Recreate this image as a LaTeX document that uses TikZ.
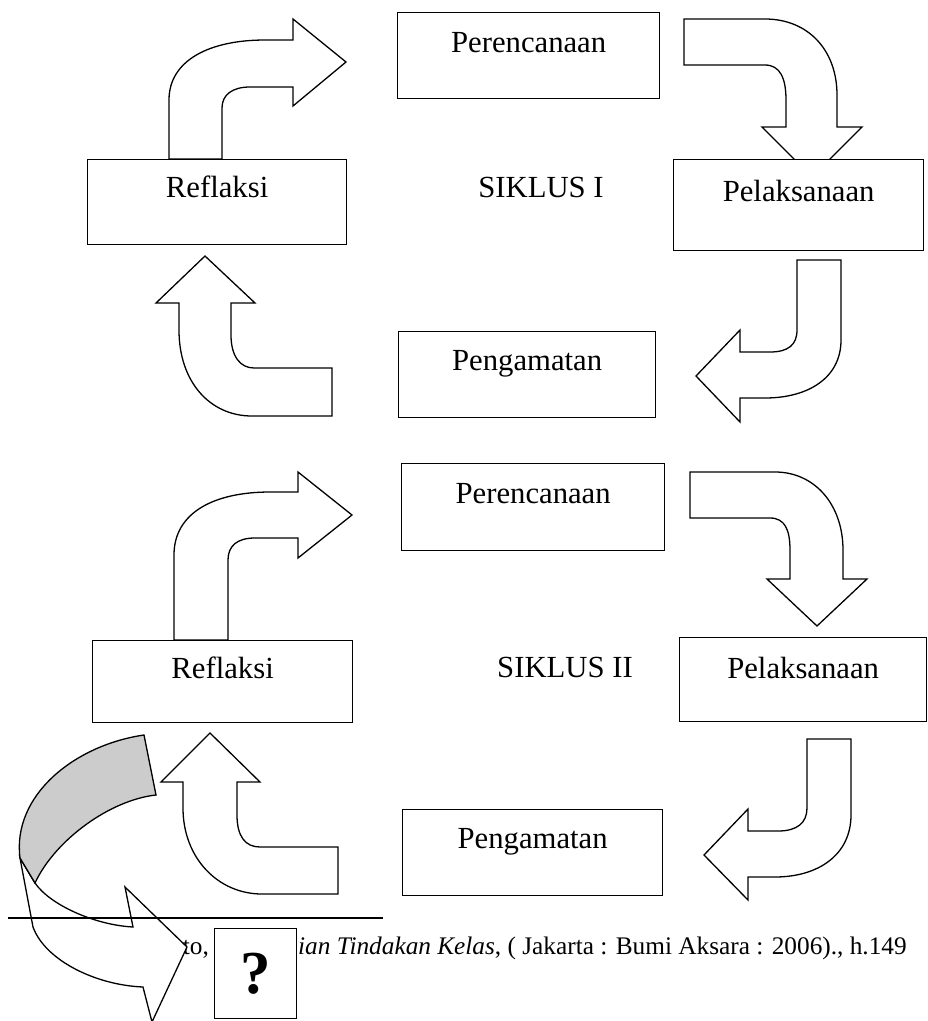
\documentclass[tikz,border=0pt]{standalone}
\usepackage{fontspec}
\setmainfont{Liberation Serif}

\begin{document}
\begin{tikzpicture}[x=1pt, y=-1pt,
  kotak/.style={draw, fill=white, line width=1.3pt, inner sep=0pt, anchor=north west, font=\fontsize{30.7}{36}\selectfont},
  judul/.style={font=\fontsize{30.7}{36}\selectfont},
  panah/.style={draw, fill=white, line width=1.3pt, line join=miter},
  catatan/.style={inner sep=0pt, anchor=base west, font=\fontsize{25.3}{30}\selectfont}]
  \useasboundingbox (0,0) rectangle (928,1021);

  % footnote text (partly hidden)
  \node[catatan] (fn1) at (170,954) {nto,};
  \node[catatan] (fn2) at (298,954) {\textit{ian Tindakan Kelas}, ( Jakarta : Bumi Aksara : 2006)., h.149};

  % siklus I
  \draw[panah] (169,159) -- (169,100) .. controls (169,60) and (210,40) .. (265,40) -- (293,40) -- (293,19) -- (346,62) -- (293,106) -- (293,87) -- (250,87) .. controls (232,87) and (222,95) .. (222,108) -- (222,159) -- cycle;
  \draw[panah] (684,19) -- (765,19) .. controls (808,19) and (837,50) .. (837,95) -- (837,127) -- (862,127) -- (812,177) -- (762,127) -- (786,127) -- (786,100) .. controls (786,78) and (780,65) .. (765,65) -- (684,65) -- cycle;
  \draw[panah] (797,260) -- (841,260) -- (841,340) .. controls (841,378) and (808,398) .. (765,398) -- (740,398) -- (740,422) -- (696,376) -- (740,330) -- (740,352) -- (770,352) .. controls (788,352) and (797,345) .. (797,330) -- cycle;
  \draw[panah] (205,256) -- (255,303) -- (231,303) -- (231,335) .. controls (231,356) and (240,368) .. (254,368) -- (332,368) -- (332,416) -- (252,416) .. controls (210,416) and (179,382) .. (179,330) -- (179,303) -- (156,303) -- cycle;

  \node[kotak, minimum width=262pt, text height=40pt, text depth=46pt] (per1) at (397,12) {Perencanaan};
  \node[kotak, minimum width=259pt, text height=38pt, text depth=47pt] (ref1) at (87,159) {Reflaksi};
  \node[kotak, minimum width=250pt, text height=42pt, text depth=49pt] (pel1) at (673,159) {Pelaksanaan};
  \node[kotak, minimum width=257pt, text height=39pt, text depth=47pt] (peng1) at (398,331) {Pengamatan};
  \node[judul] (sik1) at (541,187) {SIKLUS I};

  % siklus II
  \draw[panah] (174,640) -- (174,555) .. controls (174,512) and (215,492) .. (270,492) -- (298,492) -- (298,472) -- (352,515) -- (298,558) -- (298,538) -- (255,538) .. controls (237,538) and (228,546) .. (228,560) -- (228,640) -- cycle;
  \draw[panah] (690,472) -- (775,472) .. controls (815,472) and (843,505) .. (843,550) -- (843,579) -- (867,579) -- (817,626) -- (767,579) -- (790,579) -- (790,550) .. controls (790,530) and (785,518) .. (770,518) -- (690,518) -- cycle;
  \draw[panah] (807,739) -- (851,739) -- (851,815) .. controls (851,855) and (818,877) .. (775,877) -- (748,877) -- (748,900) -- (704,855) -- (748,809) -- (748,831) -- (778,831) .. controls (797,831) and (807,823) .. (807,808) -- cycle;
  \draw[panah] (210,733) -- (260,782) -- (237,782) -- (237,815) .. controls (237,836) and (245,847) .. (260,847) -- (338,847) -- (338,894) -- (262,894) .. controls (218,894) and (183,858) .. (183,808) -- (183,782) -- (161,782) -- cycle;

  \node[kotak, minimum width=263pt, text height=40pt, text depth=47pt] (per2) at (401,463) {Perencanaan};
  \node[kotak, minimum width=260pt, text height=38pt, text depth=44pt] (ref2) at (92,640) {Reflaksi};
  \node[kotak, minimum width=247pt, text height=41pt, text depth=43pt] (pel2) at (679,637) {Pelaksanaan};
  \node[kotak, minimum width=260pt, text height=39pt, text depth=47pt] (peng2) at (402,809) {Pengamatan};
  \node[judul] (sik2) at (565,667) {SIKLUS II};

  % big curved arrow
  \draw[panah] (20,858) -- (33,927) .. controls (45,960) and (95,985) .. (143,987) -- (152,1022) -- (187,947) -- (125,887) -- (133,927) .. controls (95,925) and (50,905) .. (35,883) -- cycle;
  \draw[panah, fill={rgb,255:red,204;green,204;blue,204}] (144,735) -- (156,795) .. controls (110,800) and (55,840) .. (35,883) -- (20,858) .. controls (12,795) and (75,745) .. (144,735) -- cycle;

  \draw[line width=1.6pt] (8,918) -- (383,918);
  \node[draw, fill=white, line width=1.3pt, anchor=north west, minimum width=82pt, minimum height=90pt, inner sep=0pt, font=\fontsize{61}{70}\selectfont\bfseries] (tanya) at (214,928) {?};
\end{tikzpicture}
\end{document}
